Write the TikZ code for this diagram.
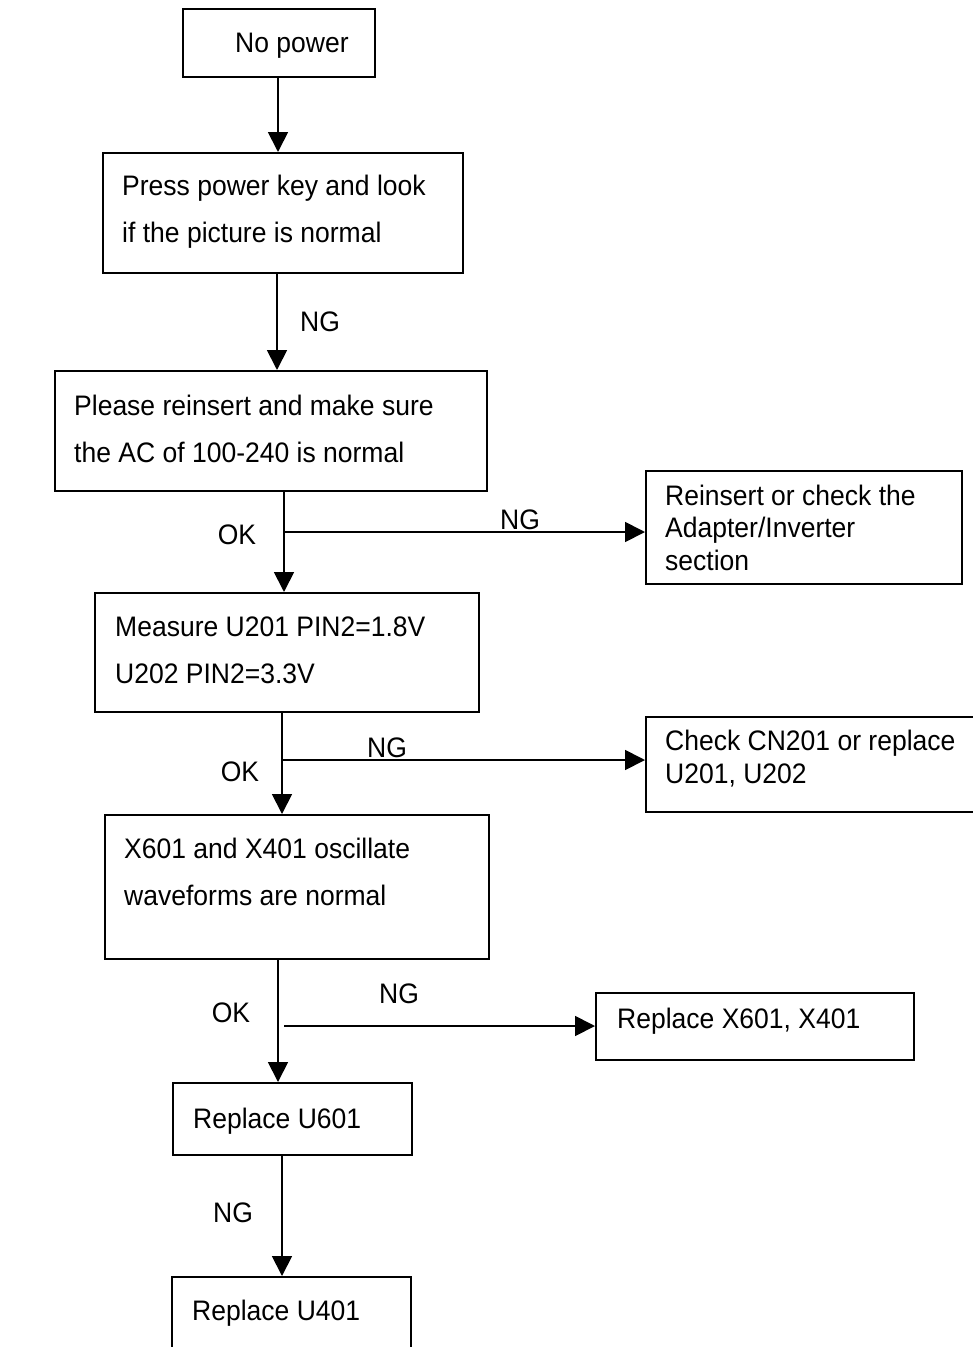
\documentclass[tikz,border=0pt]{standalone}
\usepackage{fontspec}
\setmainfont[FakeStretch=0.94]{Liberation Sans}
\usetikzlibrary{arrows.meta}
\begin{document}
\begin{tikzpicture}[x=1pt,y=-1pt,
  box/.style={draw, line width=1.8pt, rectangle, inner sep=0pt, anchor=north west},
  txt/.style={inner sep=0pt, anchor=base west, align=left, font=\fontsize{28.2}{47}\selectfont},
  tight/.style={font=\fontsize{28.2}{32.5}\selectfont},
  lbl/.style={inner sep=0pt, anchor=base, font=\fontsize{28.2}{36}\selectfont},
  arr/.style={line width=1.8pt, -{Triangle[length=20pt,width=20pt]}}]
\useasboundingbox (0,0) rectangle (973,1347);
\clip (0,0) rectangle (973,1347);
% boxes
\node[box, minimum width=192pt, minimum height=68pt]  (b1)  at (182,8) {};
\node[box, minimum width=360pt, minimum height=120pt] (b2)  at (102,152) {};
\node[box, minimum width=432pt, minimum height=120pt] (b3)  at (54,370) {};
\node[box, minimum width=316pt, minimum height=113pt] (b4)  at (645,470) {};
\node[box, minimum width=384pt, minimum height=119pt] (b5)  at (94,592) {};
\node[box, minimum width=340pt, minimum height=95pt]  (b6)  at (645,716) {};
\node[box, minimum width=384pt, minimum height=144pt] (b7)  at (104,814) {};
\node[box, minimum width=318pt, minimum height=67pt]  (b8)  at (595,992) {};
\node[box, minimum width=239pt, minimum height=72pt]  (b9)  at (172,1082) {};
\node[box, minimum width=239pt, minimum height=80pt]  (b10) at (171,1276) {};
% texts (base anchor = baseline of the last line)
\node[txt] (t1)  at (235,52)  {No power};
\node[txt] (t2)  at (122,242) {Press power key and look\\if the picture is normal};
\node[txt] (t3)  at (74,462)  {Please reinsert and make sure\\the AC of 100-240 is normal};
\node[txt,tight] (t4) at (665,570) {Reinsert or check the\\Adapter/Inverter\\section};
\node[txt] (t5)  at (115,683) {Measure U201 PIN2=1.8V\\U202 PIN2=3.3V};
\node[txt,tight] (t6) at (665,783) {Check CN201 or replace\\U201, U202};
\node[txt] (t7)  at (124,905) {X601 and X401 oscillate\\waveforms are normal};
\node[txt] (t8)  at (617,1028) {Replace X601, X401};
\node[txt] (t9)  at (193,1128) {Replace U601};
\node[txt] (t10) at (192,1320) {Replace U401};
% columns and junctions
\coordinate (c1) at (278,0);
\coordinate (c2) at (277,0);
\coordinate (c3) at (284,0);
\coordinate (c5) at (282,0);
\coordinate (c7) at (278,0);
\coordinate (c9) at (282,0);
\coordinate (j3) at (284,532);
\coordinate (j5) at (282,760);
\coordinate (j7) at (284,1026);
% connectors
\draw[arr] (c1 |- b1.south) -- (c1 |- b2.north);
\draw[arr] (c2 |- b2.south) -- (c2 |- b3.north);
\draw[arr] (c3 |- b3.south) -- (c3 |- b5.north);
\draw[arr] (j3) -- (j3 -| b4.west);
\draw[arr] (c5 |- b5.south) -- (c5 |- b7.north);
\draw[arr] (j5) -- (j5 -| b6.west);
\draw[arr] (c7 |- b7.south) -- (c7 |- b9.north);
\draw[arr] (j7) -- (j7 -| b8.west);
\draw[arr] (c9 |- b9.south) -- (c9 |- b10.north);
% labels
\node[lbl] (l1) at (320,331)  {NG};
\node[lbl] (l2) at (237,544)  {OK};
\node[lbl] (l3) at (520,529)  {NG};
\node[lbl] (l4) at (240,781)  {OK};
\node[lbl] (l5) at (387,757)  {NG};
\node[lbl] (l6) at (231,1022) {OK};
\node[lbl] (l7) at (399,1003) {NG};
\node[lbl] (l8) at (233,1222) {NG};
\end{tikzpicture}
\end{document}
